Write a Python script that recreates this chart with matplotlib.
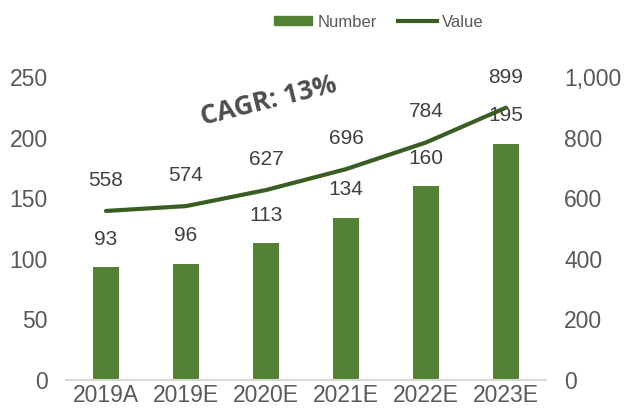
import matplotlib.pyplot as plt
from matplotlib.ticker import FuncFormatter
from matplotlib.lines import Line2D
from matplotlib.patches import Patch

years = ['2019A', '2019E', '2020E', '2021E', '2022E', '2023E']
number = [93, 96, 113, 134, 160, 195]
value = [558, 574, 627, 696, 784, 899]

bar_col = '#548235'
line_col = '#3a5d22'
txt_col = '#595959'

plt.rcParams['font.family'] = ['Liberation Sans', 'DejaVu Sans']

fig = plt.figure(figsize=(6.25, 4.08), dpi=100)
ax1 = fig.add_axes([0.1056, 0.0686, 0.768, 0.7426])
ax2 = ax1.twinx()

x = range(len(years))
ax1.bar(x, number, width=0.33, color=bar_col, zorder=2)
ax2.plot(x, value, color=line_col, lw=3, solid_capstyle='round', zorder=3)

ax1.set_xlim(-0.5, len(years) - 0.5)
ax1.set_ylim(0, 250)
ax2.set_ylim(0, 1000)
ax1.set_yticks(range(0, 251, 50))
ax2.set_yticks(range(0, 1001, 200))
ax2.yaxis.set_major_formatter(FuncFormatter(lambda v, p: f'{int(v):,}'))

ax1.set_xticks(list(x))
ax1.set_xticklabels(years)

for a in (ax1, ax2):
    for s in a.spines.values():
        s.set_visible(False)
    a.tick_params(length=0, labelsize=16.5, labelcolor=txt_col)
ax1.spines['bottom'].set_visible(True)
ax1.spines['bottom'].set_color('#d9d9d9')
ax1.spines['bottom'].set_linewidth(1.5)
ax1.tick_params(axis='y', pad=13)
ax2.tick_params(axis='y', pad=13)
ax1.tick_params(axis='x', pad=3)

# bar labels
for i, n in enumerate(number):
    ax1.annotate(str(n), (i, n), xytext=(0, 20), textcoords='offset points',
                 ha='center', va='center', fontsize=15, color='#404040')
# line labels
for i, v in enumerate(value):
    ax2.annotate(str(v), (i, v), xytext=(0, 22), textcoords='offset points',
                 ha='center', va='center', fontsize=15, color='#404040')

fig.text(0.43, 0.752, 'CAGR: 13%', rotation=14, ha='center', va='center',
         fontsize=19, fontweight='bold', color='#4d4d4d',
         family=['Open Sans', 'DejaVu Sans'])

handles = [Patch(color=bar_col), Line2D([], [], color=line_col, lw=3)]
fig.legend(handles, ['Number', 'Value'], loc='center', bbox_to_anchor=(0.606, 0.946),
           ncol=2, frameon=False, handlelength=2.3, handleheight=0.5,
           columnspacing=1.3, handletextpad=0.3,
           prop={'family': ['Liberation Sans Narrow', 'Liberation Sans'], 'size': 12},
           labelcolor=txt_col)

fig.savefig('out.png', dpi=100)
